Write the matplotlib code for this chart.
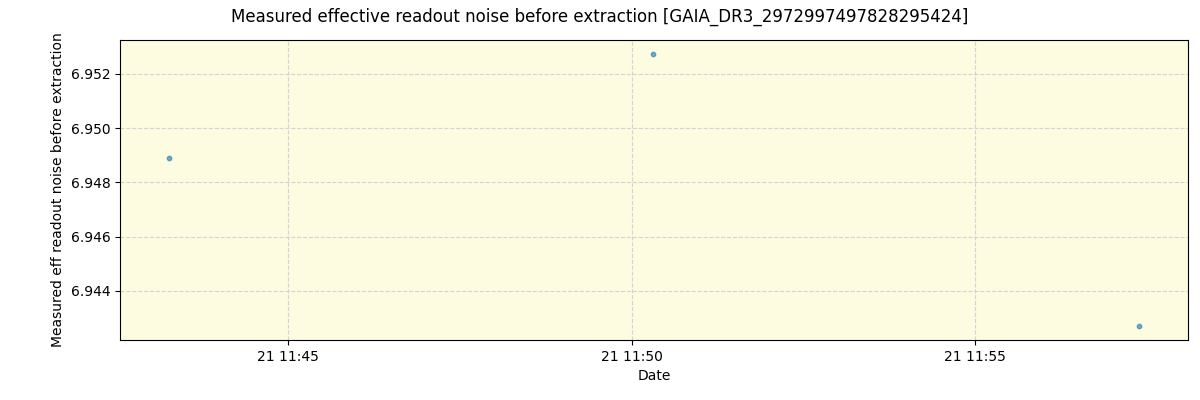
import matplotlib
matplotlib.use("Agg")
import matplotlib.pyplot as plt
import matplotlib.dates as mdates
import pandas as pd

dates = ["2023-01-21 11:43:16", "2023-01-21 11:50:19", "2023-01-21 11:57:23"]
noise = [6.94890, 6.95274, 6.94272]

x = pd.to_datetime(dates)

fig = plt.figure(figsize=(12, 4), dpi=100)
ax = fig.add_axes([0.1, 0.15, 0.89, 0.75])
ax.set_facecolor("#fdfce1")
ax.scatter(x, noise, s=10, color="tab:blue", alpha=0.6, zorder=3)
ax.grid(True, linestyle="--", color="lightgray", zorder=0)
ax.set_axisbelow(True)
ax.xaxis.set_major_locator(mdates.MinuteLocator(byminute=[45, 50, 55]))
ax.xaxis.set_major_formatter(mdates.DateFormatter("%d %H:%M"))
ax.set_xlim(pd.Timestamp("2023-01-21 11:42:33"), pd.Timestamp("2023-01-21 11:58:06"))
ax.set_ylim(6.94219, 6.95325)
ax.set_xlabel("Date")
ax.set_ylabel("Measured eff readout noise before extraction")
fig.suptitle("Measured effective readout noise before extraction [GAIA_DR3_2972997497828295424]", y=0.98)
fig.savefig("out.png")
